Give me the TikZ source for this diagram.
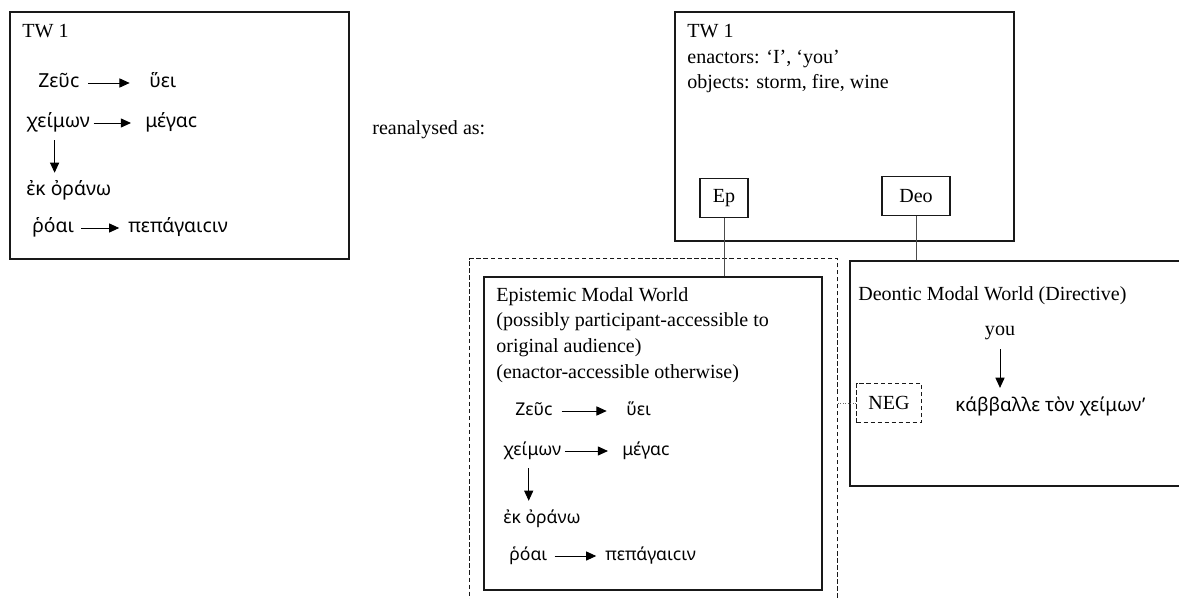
\documentclass[tikz,border=0pt]{standalone}
\usepackage{fontspec}
\setmainfont{Liberation Serif}
\newfontfamily\greek{Noto Sans}
\usetikzlibrary{arrows.meta}

\tikzset{
  world/.style={draw=black!90, line width=0.9pt, anchor=north west, inner sep=0pt},
  worldtext/.style={anchor=north west, align=left, inner sep=0pt,
    font=\fontsize{11.4}{14.6}\selectfont},
  switch/.style={draw=black!90, line width=0.9pt, inner sep=0pt,
    minimum height=0.78cm, font=\fontsize{11.4}{14}\selectfont},
  gk/.style={anchor=west, inner sep=0pt, text height=1.3ex, text depth=0.3ex},
  rel/.style={-{Triangle[length=5.8pt,width=5.2pt]}, line width=0.55pt},
  link/.style={black!70, line width=0.55pt},
  % one text world's storm propositions
  pics/storm/.style={code={
    \node[gk] (zeus) at (12,0) {Ζεῦϲ};
    \node[gk] (huei) at (123,0) {ὕει};
    \node[gk] (cheimon) at (0,40) {χείμων};
    \node[gk] (megas) at (119,40) {μέγαϲ};
    \node[gk] (ek) at (0,108) {ἐκ ὀράνω};
    \node[gk] (roai) at (6,145) {ῥόαι};
    \node[gk] (pep) at (102,145) {πεπάγαιϲιν};
    \draw[rel] ([xshift=5pt]zeus.east) -- ([xshift=-11pt]zeus.east -| huei.west);
    \draw[rel] ([xshift=2pt]cheimon.east) -- ([xshift=-8pt]cheimon.east -| megas.west);
    \draw[rel] ([xshift=-2pt,yshift=-6pt]cheimon.south) -- ([xshift=-2pt,yshift=6.5pt]cheimon.south |- ek.north);
    \draw[rel] ([xshift=4pt]roai.east) -- ([xshift=-5pt]roai.east -| pep.west);
  }}
}

\begin{document}
\begin{tikzpicture}[x=0.02cm, y=-0.02cm]
  \useasboundingbox (0,0) rectangle (1179,598);
  \clip (0,0) rectangle (1179,598);

  % original text world
  \node[world, minimum width=6.78cm, minimum height=4.94cm] (tw) at (9,11) {};
  \node[worldtext] (twlabel) at (22,24) {TW 1};
  \pic[font=\greek\fontsize{11}{13}\selectfont] (lft) at (26,83) {storm};

  \node[anchor=west, inner sep=0pt, font=\fontsize{11.4}{14}\selectfont] (reanal) at (372,130) {reanalysed as:};

  % reanalysed text world
  \node[world, minimum width=6.78cm, minimum height=4.58cm] (twr) at (674,11) {};
  \node[worldtext] (twrlabel) at (687,24) {TW 1\\enactors: `I', `you'\\objects: storm, fire, wine};
  \node[switch, minimum width=0.96cm] (ep) at (724,198) {Ep};
  \node[switch, minimum width=1.36cm] (deo) at (916,196) {Deo};

  % epistemic modal world inside the negated frame
  \node[world, dashed, dash pattern=on 2.5pt off 1.5pt, line width=0.6pt,
    minimum width=7.36cm, minimum height=8cm] (ext) at (469,258) {};
  \node[world, minimum width=6.76cm, minimum height=6.26cm] (epi) at (483,276) {};
  \node[worldtext] (epilabel) at (496,287) {Epistemic Modal World\\(possibly participant-accessible to\\original audience)\\(enactor-accessible otherwise)};
  \pic[font=\greek\fontsize{10}{12}\selectfont] (epi) at (503,411) {storm};

  % deontic modal world
  \node[world, minimum width=8cm, minimum height=4.5cm] (deon) at (849,260) {};
  \node[worldtext] (deonlabel) at (858,286) {Deontic Modal World (Directive)};
  \node[inner sep=0pt, font=\fontsize{11.4}{14}\selectfont] (you) at (1000,333) {you};
  \node[gk, font=\greek\fontsize{10.7}{13}\selectfont] (kab) at (955,407) {κάββαλλε τὸν χείμων’};
  \draw[rel] ([yshift=-5pt]you.south) -- ([yshift=7pt]you.south |- kab.north);
  \node[switch, dashed, dash pattern=on 2.5pt off 1.5pt, minimum width=1.3cm] (neg) at (889,403) {NEG};

  \draw[link] (ep) -- (ep |- epi.north);
  \draw[link] (deo) -- (deo |- deon.north);
  \draw[black!60, densely dotted, line width=0.4pt] (neg) -- (neg -| ext.east);
\end{tikzpicture}
\end{document}
